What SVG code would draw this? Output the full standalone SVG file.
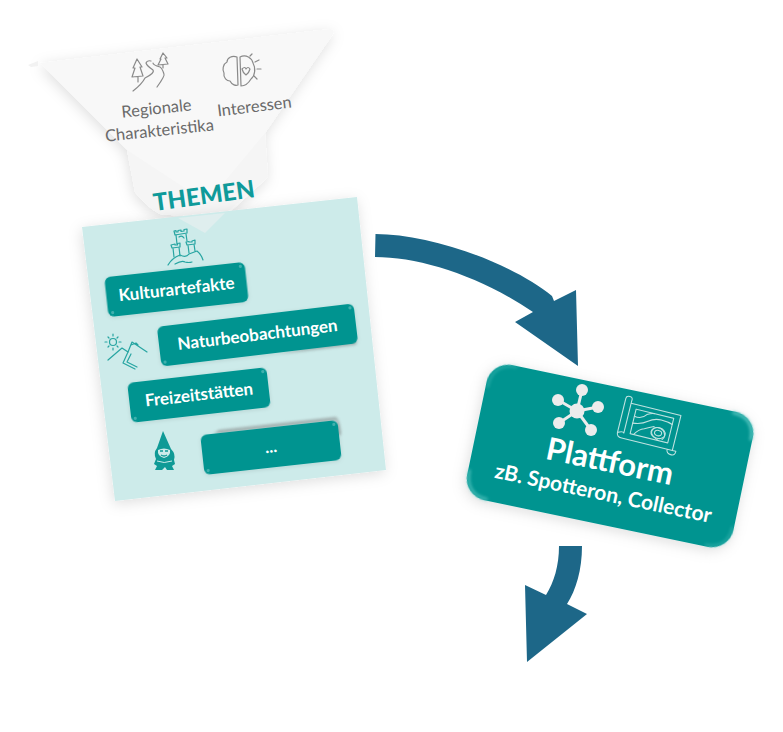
<svg xmlns="http://www.w3.org/2000/svg" width="783" height="732" viewBox="0 0 783 732">
<defs>
<filter id="sh" x="-20%" y="-20%" width="140%" height="140%"><feDropShadow dx="-1" dy="3" stdDeviation="7" flood-color="#000" flood-opacity="0.13"/></filter>
<filter id="sh2" x="-20%" y="-20%" width="140%" height="140%"><feDropShadow dx="0" dy="1" stdDeviation="2" flood-color="#000" flood-opacity="0.1"/></filter>
<filter id="bl" x="-30%" y="-30%" width="160%" height="160%"><feGaussianBlur stdDeviation="1.5"/></filter>
</defs>
<style>
.t{font-family:Lato,"Liberation Sans",sans-serif}
.g{fill:#6a6a6a;font-size:16.5px;text-anchor:middle}
.b{fill:#fff;font-size:17px;font-weight:700;text-anchor:middle}
.btn{fill:#009490}
.dot{fill:#3fb0ad}
.ic{fill:none;stroke:#27a5a2;stroke-width:1.2;stroke-linecap:round;stroke-linejoin:round}
.ig{fill:none;stroke:#8a8a8a;stroke-width:1.2;stroke-linecap:round;stroke-linejoin:round}
.iw{fill:none;stroke:#bfe3e1;stroke-width:1.2;stroke-linejoin:round;stroke-linecap:round}
.ar{fill:#1d6788}
.hl{fill:none;stroke:#5cc8c3;stroke-width:2.5;stroke-linecap:round}
</style>

<g id="funnel">
<path d="M40 63 L330 29 Q335 29 333 34 L265 133 L268 177 L232 210 L205 232 L182 216 L160 214 Q148 208 135 192 L127 150 Z" fill="#f8f8f8" filter="url(#sh)"/>
<path d="M127 150 L188 190 L205 205 L265 133 L268 177 L232 208 L205 232 L182 216 L160 214 Q148 208 135 192 Z" fill="#f5f5f5"/>
<path d="M28 65 L38 61 L38 66 L31 67 Z" fill="#f2f2f2"/>
<g id="icon-regional" class="ig">
<path d="M137 59 L133 68 L135 68 L132 77 L143 76 L140 67 L142 67 Z M138 77 L138 82"/>
<path d="M163 53 L160 59 L161 59 L158 65 L168 64 L165 58 L167 58 Z M163 65 L163 68"/>
<path d="M133 91 Q142 84 145 78 Q155 73 153 70 Q147 66 146 63 Q147 60 151 61 M157 87 Q165 76 164 74 Q162 68 160 67 Q153 65 153 63"/>
</g>
<g id="icon-interessen" class="ig">
<path d="M237 57 C232 55 227 58 227 62 C223 64 222 70 224 73 C223 78 227 81 230 81 C232 85 236 86 238 85 Z"/>
<path d="M240 57 C246 54 252 58 253 63 C256 68 255 76 251 79 C248 84 244 86 241 86 Z"/>
<path d="M242 69 Q245 66 246 69 Q248 66 250 69 Q249 73 246 75 Q243 73 242 69 Z"/>
<path d="M250 56 L252 54 M255 62 L259 60 M257 69 L261 69 M254 76 L257 79"/>
</g>
<text class="t g" transform="translate(157 114) rotate(-6)">Regionale</text>
<text class="t g" transform="translate(160 136) rotate(-6)">Charakteristika</text>
<text class="t g" transform="translate(255 112) rotate(-7)">Interessen</text>
</g>

<g id="themen-panel">
<path d="M82 227 L357 197 L386 470 L115 501 Z" fill="#cdebea" filter="url(#sh)"/>
<path d="M178 218 L225 213 L205 233 Z" fill="#dfeeee"/>
<text class="t" transform="translate(205 204) rotate(-8)" text-anchor="middle" font-size="24" font-weight="900" fill="#0f9a9a">THEMEN</text>
</g>

<g id="icon-castle" class="ic">
<path d="M174 231 L175 235 L187 233 L187 229 L184 229.500 L184 231 L181 231.500 L181 230 L178 230.500 L178 232 L176 232 L176 230.500 Z"/>
<path d="M176 235 L177 244 M186 234 L187 241 M179 237 Q182 235 184 238"/>
<path d="M171 245 L172 248 L180 247 L180 243 L177.500 243.500 L177.500 245 L175 245 L175 244 Z M173 248 L174 257 M179 247 L180 256"/>
<path d="M186 242 L187 245 L195 244 L195 240 L192 241 L192 242 L189 242 L189 241.500 Z M188 245 L189 253 M194 244 L195 251"/>
<path d="M168 265 Q172 258 180 255 Q186 258 189 254 L197 251 Q201 254 203 260 M175 264 Q182 260 185 262 Q189 263 192 262"/>
</g>
<g id="icon-mountain" class="ic">
<circle cx="113" cy="342" r="3.500"/>
<path d="M113 336 L113 334 M113 348 L113 350 M107 342 L105 342 M119 342 L121 342 M109 338 L108 337 M117 346 L118 347 M117 338 L118 337 M109 346 L108 347"/>
<path d="M108 360 L122 348 L128 352 L132 342 L147 352 M131 345 L136 343 L138 345"/>
<path d="M128 352 L123 363 L135 369 M131 354 L127 362 L137 367"/>
</g>
<g id="icon-gnome">
<path d="M163 431 L171 449 Q176 454 174 460 L175 464 L172 466 L174 470 L167 470 L165 467 L162 470 L155 470 L157 466 L154 464 L156 459 Q153 453 157 448 Z" fill="#0f9a96"/>
<path d="M158 450 Q164 447 170 450 Q171 456 164 458 Q157 456 158 450 Z" fill="#cdebea"/>
<path d="M160 451 H163 M165 451 H168 M161 455 Q164 457 167 455" stroke="#0f9a96" stroke-width="1.300" fill="none"/>
<path d="M157 461 Q164 464 172 461" stroke="#cdebea" stroke-width="1" fill="none"/>
</g>

<g id="kulturartefakte" transform="translate(176.500 289.500) rotate(-6.300)">
<rect x="-70.500" y="-20" width="141" height="40" rx="6" class="btn" filter="url(#sh2)"/>
<circle cx="66" cy="-16" r="1.600" class="dot"/><circle cx="-66" cy="16" r="1.600" class="dot"/>
<text class="t b" y="5.500">Kulturartefakte</text>
</g>
<g id="naturbeobachtungen" transform="translate(257.500 335) rotate(-6.800)">
<path d="M20 21 H97 V14 Z" fill="#777" opacity=".45" filter="url(#bl)"/>
<rect x="-99" y="-20" width="198" height="40" rx="6" class="btn" filter="url(#sh2)"/>
<circle cx="95" cy="-16" r="1.600" class="dot"/><circle cx="-95" cy="16" r="1.600" class="dot"/>
<text class="t b" y="5.500">Naturbeobachtungen</text>
</g>
<g id="freizeitstaetten" transform="translate(199 395) rotate(-6.500)">
<rect x="-70" y="-20" width="140" height="40" rx="6" class="btn" filter="url(#sh2)"/>
<circle cx="66" cy="-16" r="1.600" class="dot"/><circle cx="-66" cy="16" r="1.600" class="dot"/>
<text class="t b" y="5.500">Freizeitstätten</text>
</g>
<g id="ellipsis" transform="translate(271 447.500) rotate(-6.300)">
<path d="M-55 -20 L-50 -23 H68 Q71 -20 71 -5 L68 -5 V-20 Z" fill="#777" opacity=".6" filter="url(#bl)"/>
<rect x="-69" y="-20" width="138" height="40" rx="6" class="btn" filter="url(#sh2)"/>
<circle cx="65" cy="-16" r="1.600" class="dot"/><circle cx="-65" cy="16" r="1.600" class="dot"/>
<text class="t b" y="5">...</text>
</g>

<g id="plattform" transform="translate(610 456) rotate(11.800)">
<rect x="-136" y="-69" width="272" height="138" rx="22" fill="#009490" filter="url(#sh)"/>
<path class="hl" d="M112 -67.500 Q134 -67 134.500 -45" filter="url(#bl)"/>
<path class="hl" d="M-134.500 43 Q-134 67 -112 67.500" filter="url(#bl)" opacity=".8"/>
<path class="hl" d="M-134 -43 Q-134 -67 -110 -68" filter="url(#bl)" opacity=".4"/>
<path class="hl" d="M134.500 45 Q134 67 112 67.500" filter="url(#bl)" opacity=".4"/>
<g id="icon-network" transform="translate(-41.500 -37.300) rotate(-11.800)" fill="#ececec" stroke="#ececec" stroke-width="3">
<line x1="0" y1="0" x2="-19" y2="-11"/><line x1="0" y1="0" x2="5" y2="-21"/><line x1="0" y1="0" x2="21" y2="-4"/><line x1="0" y1="0" x2="-18" y2="12"/><line x1="0" y1="0" x2="14" y2="19"/>
<circle r="7.500" stroke="none"/><circle cx="-19" cy="-11" r="6" stroke="none"/><circle cx="5" cy="-21" r="6" stroke="none"/><circle cx="21" cy="-4" r="6" stroke="none"/><circle cx="-18" cy="12" r="6" stroke="none"/><circle cx="14" cy="19" r="6" stroke="none"/>
</g>
<g id="icon-map" class="iw" transform="translate(30 -39) rotate(2) scale(.9)">
<path d="M-30 -22 Q-30 -25 -26 -25 Q-22 -25 -23 -20 L-23 16 M-30 -22 L-30 17 Q-24 14 -23 16 M-30 17 Q-30 22 -24 22 L34 22 L34 -18 L-23 -18 M28 22 Q28 27 34 27 Q38 27 38 22 L34 22"/>
<path d="M-16 -13 H27 V15 H-16 Z"/>
<path d="M-16 -5 Q-8 -3 -3 -10 Q2 -13 5 -13 M-16 3 Q-6 2 0 -3 Q6 -8 14 -8 Q22 -8 27 -6 M-12 15 Q-8 8 -2 6 Q3 3 8 1 M16 15 Q3 10 8 3 Q13 -1 19 3 Q24 8 20 13"/>
<ellipse cx="14" cy="7" rx="4" ry="3"/>
<ellipse cx="14" cy="7" rx="8" ry="6"/>
</g>
<text class="t" y="16" x="1" text-anchor="middle" font-size="31" font-weight="700" fill="#fff">Plattform</text>
<text class="t" y="45" x="1" text-anchor="middle" font-size="21" font-weight="700" fill="#fff">zB. Spotteron, Collector</text>
</g>

<g id="connectors">
<path class="ar" d="M375.500 234 C430 234 510 262 552 296 L554 301 L576 290 L578 366 L515 322 L533 312 C480 276 420 257 375 257 Z"/>
<path class="ar" d="M559 546 L582 546 C582 570 576 590 567 604 L587 614 L527 662 L525 585 L546 595 C554 582 559 566 559 546 Z"/>
</g>
</svg>
